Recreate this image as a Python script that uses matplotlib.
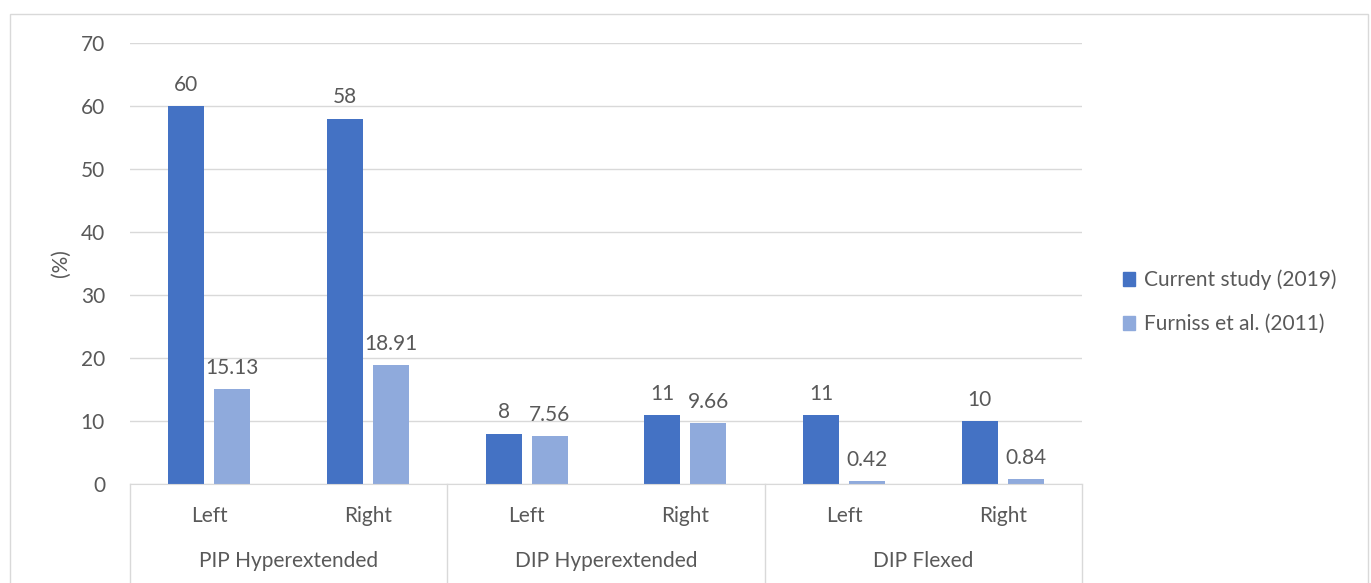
import numpy as np
import matplotlib
matplotlib.use("Agg")
import matplotlib.pyplot as plt
from matplotlib.patches import Rectangle, Patch
from matplotlib.lines import Line2D

categories = ["Left", "Right", "Left", "Right", "Left", "Right"]
groups = ["PIP Hyperextended", "DIP Hyperextended", "DIP Flexed"]
current = [60, 58, 8, 11, 11, 10]
furniss = [15.13, 18.91, 7.56, 9.66, 0.42, 0.84]
series_names = ["Current study (2019)", "Furniss et al. (2011)"]

dark = "#4472C4"
light = "#8FAADC"
txt = "#595959"
grid_c = "#D9D9D9"
fs = 15

plt.rcParams["font.family"] = ["Lato", "DejaVu Sans"]

W, H = 1371, 583
fig = plt.figure(figsize=(W / 100, H / 100), dpi=100)
fig.patch.set_facecolor("white")

# outer chart frame
fig.add_artist(Rectangle((10 / W, -0.1), (1368 - 10) / W, 1.1 - 14 / H,
                         transform=fig.transFigure, fill=False,
                         edgecolor=grid_c, linewidth=1))

ax = fig.add_axes([130 / W, 1 - 484 / H, (1082 - 130) / W, (484 - 43) / H])
x = np.arange(len(categories))
w = 0.227
off = 0.145
b1 = ax.bar(x - off, current, w, color=dark, zorder=3)
b2 = ax.bar(x + off, furniss, w, color=light, zorder=3)

for bars, vals in [(b1, current), (b2, furniss)]:
    for r, v in zip(bars, vals):
        ax.annotate(f"{v:g}", (r.get_x() + r.get_width() / 2, v),
                    xytext=(0, 8), textcoords="offset points",
                    ha="center", va="bottom", fontsize=fs, color=txt)

ax.set_xlim(-0.5, len(categories) - 0.5)
ax.set_ylim(0, 70)
ax.set_yticks(np.arange(0, 71, 10))
ax.yaxis.grid(True, color=grid_c, linewidth=1, zorder=0)
ax.tick_params(axis="y", length=0, pad=18, labelsize=fs, labelcolor=txt)
ax.set_xticks([])
for s in ["top", "right", "left"]:
    ax.spines[s].set_visible(False)
ax.spines["bottom"].set_color(grid_c)
ax.spines["bottom"].set_zorder(4)
ax.set_ylabel("(%)", fontsize=fs, color=txt, labelpad=7)

# two-level category axis
trans = ax.get_xaxis_transform()
for i, c in enumerate(categories):
    ax.text(i, -32 / 441, c, transform=trans, ha="center", va="center",
            fontsize=fs, color=txt)
for g, name in enumerate(groups):
    ax.text(2 * g + 0.5, -77 / 441, name, transform=trans, ha="center",
            va="center", fontsize=fs, color=txt)
for sep in [-0.5, 1.5, 3.5, 5.5]:
    ax.add_line(Line2D([sep, sep], [0, -0.3], transform=trans, color=grid_c,
                       linewidth=1, clip_on=False))

handles = [Patch(color=dark), Patch(color=light)]
fig.legend(handles, series_names, loc="center left",
           bbox_to_anchor=(1104 / W, 1 - 302 / H), frameon=False,
           fontsize=fs, labelcolor=txt, handlelength=0.6, handleheight=0.6,
           handletextpad=0.4, labelspacing=1.15)

fig.savefig("out.png", dpi=100)
